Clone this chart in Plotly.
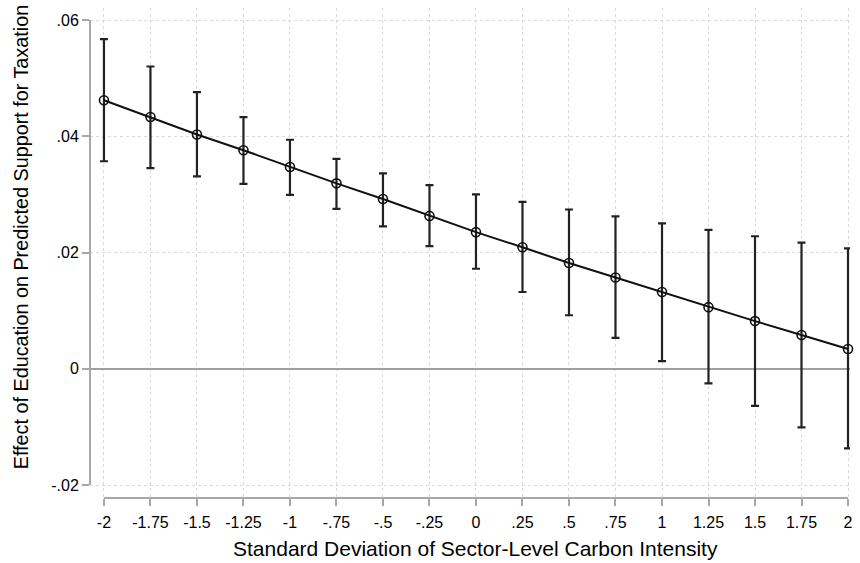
import plotly.graph_objects as go

x_vals = [-2, -1.75, -1.5, -1.25, -1, -0.75, -0.5, -0.25, 0, 0.25, 0.5, 0.75, 1, 1.25, 1.5, 1.75, 2]
effect = [0.0462, 0.0433, 0.0403, 0.0376, 0.0347, 0.0319, 0.0292, 0.0263, 0.0235,
          0.0209, 0.0182, 0.0157, 0.0132, 0.0106, 0.0082, 0.0058, 0.0034]
ci_upper = [0.0567, 0.0520, 0.0476, 0.0433, 0.0394, 0.0361, 0.0336, 0.0316, 0.0300,
            0.0287, 0.0274, 0.0262, 0.0250, 0.0239, 0.0228, 0.0217, 0.0207]
ci_lower = [0.0357, 0.0345, 0.0331, 0.0318, 0.0299, 0.0275, 0.0245, 0.0211, 0.0172,
            0.0132, 0.0092, 0.0053, 0.0013, -0.0025, -0.0064, -0.0101, -0.0137]

x_ticks = [-2, -1.75, -1.5, -1.25, -1, -0.75, -0.5, -0.25, 0, 0.25, 0.5, 0.75, 1, 1.25, 1.5, 1.75, 2]
x_labels = ["-2", "-1.75", "-1.5", "-1.25", "-1", "-.75", "-.5", "-.25", "0", ".25", ".5", ".75",
            "1", "1.25", "1.5", "1.75", "2"]
y_ticks = [-0.02, 0, 0.02, 0.04, 0.06]
y_labels = ["-.02", "0", ".02", ".04", ".06"]

x_title = "Standard Deviation of Sector-Level Carbon Intensity"
y_title = "Effect of Education on Predicted Support for Taxation"

FONT = "Liberation Sans, Arial, sans-serif"
AXIS_GRAY = "#a8a8a8"

err_plus = [u - e for u, e in zip(ci_upper, effect)]
err_minus = [e - l for e, l in zip(effect, ci_lower)]

fig = go.Figure()
fig.add_trace(go.Scatter(
    x=x_vals, y=effect, mode="lines+markers",
    line=dict(color="#111111", width=2),
    marker=dict(symbol="circle-open", size=9, color="#111111", line=dict(width=1.6, color="#111111")),
    error_y=dict(type="data", symmetric=False, array=err_plus, arrayminus=err_minus,
                 color="#222222", thickness=2.2, width=4),
    cliponaxis=False, showlegend=False,
))

# axis lines (Stata style, offset from plot region)
fig.add_shape(type="line", xref="paper", yref="y", x0=0, x1=0, y0=y_ticks[0], y1=y_ticks[-1],
              line=dict(color=AXIS_GRAY, width=2))
fig.add_shape(type="line", xref="x", yref="paper", x0=x_ticks[0], x1=x_ticks[-1], y0=0, y1=0,
              line=dict(color=AXIS_GRAY, width=2))

fig.update_layout(
    width=860, height=563,
    margin=dict(l=90, r=7, t=8, b=65),
    paper_bgcolor="white", plot_bgcolor="white",
    font=dict(family=FONT, size=16, color="black"),
    xaxis=dict(range=[-2.075, 2.0107], tickvals=x_ticks, ticktext=x_labels,
               showgrid=True, gridcolor="#dadada", griddash="dot", gridwidth=1,
               zeroline=False, showline=False,
               ticks="outside", ticklen=7, tickwidth=2, tickcolor=AXIS_GRAY,
               ticklabelstandoff=3,
               tickfont=dict(family=FONT, size=16, color="black")),
    yaxis=dict(range=[-0.022237, 0.062065], tickvals=y_ticks, ticktext=y_labels,
               showgrid=True, gridcolor="#dadada", griddash="dot", gridwidth=1,
               zeroline=True, zerolinecolor="#a0a0a0", zerolinewidth=1.5, showline=False,
               ticks="outside", ticklen=7, tickwidth=2, tickcolor=AXIS_GRAY,
               tickfont=dict(family=FONT, size=16, color="black")),
    annotations=[
        dict(text=x_title, xref="paper", yref="paper", x=(477 - 90) / 763, y=-(548 - 498) / 490,
             xanchor="center", yanchor="middle", showarrow=False,
             font=dict(family=FONT, size=21, color="black")),
        dict(text=y_title, xref="paper", yref="paper", x=-(90 - 21) / 763, y=(498 - 237) / 490,
             xanchor="center", yanchor="middle", textangle=-90, showarrow=False,
             font=dict(family=FONT, size=19.8, color="black")),
    ],
)

fig.write_html("out.html")
